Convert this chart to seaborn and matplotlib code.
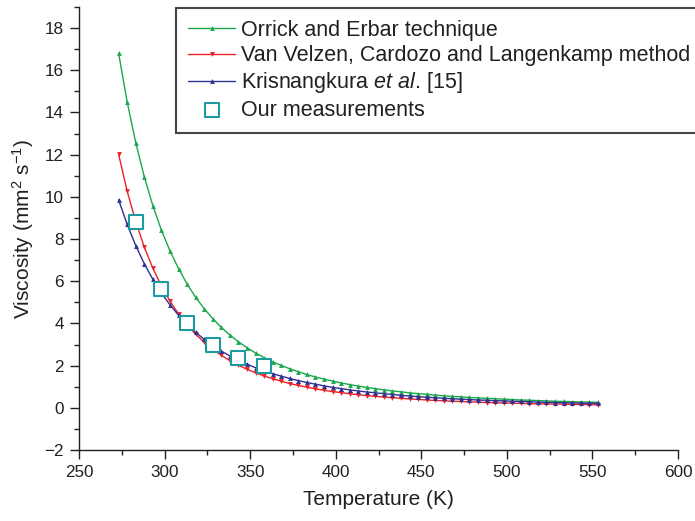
import numpy as np
import pandas as pd
import matplotlib
matplotlib.use("Agg")
import matplotlib.pyplot as plt
from matplotlib.ticker import MultipleLocator
import seaborn as sns

# temperatures (K) of the calculated points, 5 K apart
temp = [273.15, 278.15, 283.15, 288.15, 293.15, 298.15, 303.15, 308.15, 313.15, 318.15,
        323.15, 328.15, 333.15, 338.15, 343.15, 348.15, 353.15, 358.15, 363.15, 368.15,
        373.15, 378.15, 383.15, 388.15, 393.15, 398.15, 403.15, 408.15, 413.15, 418.15,
        423.15, 428.15, 433.15, 438.15, 443.15, 448.15, 453.15, 458.15, 463.15, 468.15,
        473.15, 478.15, 483.15, 488.15, 493.15, 498.15, 503.15, 508.15, 513.15, 518.15,
        523.15, 528.15, 533.15, 538.15, 543.15, 548.15, 553.15]

orrick = [16.81, 14.50, 12.57, 10.95, 9.58, 8.42, 7.44, 6.60, 5.87, 5.24,
          4.70, 4.23, 3.81, 3.45, 3.13, 2.85, 2.60, 2.38, 2.18, 2.01,
          1.85, 1.71, 1.58, 1.46, 1.36, 1.27, 1.18, 1.10, 1.03, 0.97,
          0.91, 0.85, 0.80, 0.76, 0.71, 0.67, 0.64, 0.60, 0.57, 0.54,
          0.52, 0.49, 0.47, 0.45, 0.43, 0.41, 0.39, 0.37, 0.36, 0.34,
          0.33, 0.31, 0.30, 0.29, 0.28, 0.27, 0.26]

van_velzen = [12.02, 10.27, 8.83, 7.62, 6.62, 5.77, 5.06, 4.45, 3.93, 3.49,
              3.11, 2.78, 2.49, 2.24, 2.02, 1.83, 1.66, 1.51, 1.38, 1.26,
              1.15, 1.06, 0.98, 0.90, 0.83, 0.77, 0.72, 0.67, 0.62, 0.58,
              0.54, 0.51, 0.48, 0.45, 0.42, 0.40, 0.37, 0.35, 0.33, 0.31,
              0.30, 0.28, 0.27, 0.25, 0.24, 0.23, 0.22, 0.21, 0.20, 0.19,
              0.18, 0.18, 0.17, 0.16, 0.16, 0.15, 0.14]

krisnangkura = [9.86, 8.69, 7.69, 6.83, 6.09, 5.44, 4.88, 4.39, 3.96, 3.58,
                3.25, 2.95, 2.69, 2.46, 2.25, 2.07, 1.90, 1.75, 1.62, 1.50,
                1.39, 1.29, 1.20, 1.12, 1.04, 0.97, 0.91, 0.85, 0.80, 0.75,
                0.71, 0.67, 0.63, 0.59, 0.56, 0.53, 0.50, 0.48, 0.45, 0.43,
                0.41, 0.39, 0.37, 0.36, 0.34, 0.33, 0.31, 0.30, 0.29, 0.27,
                0.26, 0.25, 0.24, 0.23, 0.22, 0.22, 0.21]

meas_temp = [283.15, 298.15, 313.15, 328.15, 343.15, 358.15]
meas_visc = [8.80, 5.61, 4.04, 3.00, 2.36, 1.96]

labels = ["Orrick and Erbar technique",
          "Van Velzen, Cardozo and Langenkamp method",
          r"Krisnangkura $\it{et\ al}$. [15]",
          "Our measurements"]

sns.set_style("ticks")
plt.rcParams["font.family"] = ["Liberation Sans", "DejaVu Sans"]
plt.rcParams["mathtext.fontset"] = "custom"
plt.rcParams["mathtext.rm"] = "Liberation Sans"
plt.rcParams["mathtext.it"] = "Liberation Sans:italic"

fig = plt.figure(figsize=(6.95, 5.21), dpi=100)
ax = fig.add_axes([79 / 695, 1 - 450 / 521, (678 - 79) / 695, (450 - 7) / 521])

df = pd.DataFrame({"T": temp, "o": orrick, "v": van_velzen, "k": krisnangkura})
sns.lineplot(data=df, x="T", y="o", ax=ax, color="#1aa84b", lw=1.0, marker="^",
             markersize=3.5, markeredgewidth=0, label=labels[0])
sns.lineplot(data=df, x="T", y="v", ax=ax, color="#ec2227", lw=1.0, marker="v",
             markersize=3.5, markeredgewidth=0, label=labels[1])
sns.lineplot(data=df, x="T", y="k", ax=ax, color="#2e3192", lw=1.0, marker="^",
             markersize=3.5, markeredgewidth=0, label=labels[2])
sns.scatterplot(x=meas_temp, y=meas_visc, ax=ax, marker="s", s=100, facecolor="white",
                edgecolor="#1b9aa0", linewidth=1.5, label=labels[3], zorder=5)

ax.set_xlim(250, 600)
ax.set_ylim(-2, 19)
ax.xaxis.set_major_locator(MultipleLocator(50))
ax.xaxis.set_minor_locator(MultipleLocator(25))
ax.yaxis.set_major_locator(MultipleLocator(2))
ax.yaxis.set_minor_locator(MultipleLocator(1))
ax.tick_params(which="major", length=6.8, width=1, labelsize=12.3, colors="#231f20",
               direction="out", pad=4)
ax.tick_params(which="minor", length=3.4, width=1, color="#231f20", direction="out")
for s in ["top", "right"]:
    ax.spines[s].set_visible(False)
for s in ["left", "bottom"]:
    ax.spines[s].set_color("#231f20")
    ax.spines[s].set_linewidth(1.0)

ax.set_xlabel("Temperature (K)", fontsize=15, color="#231f20", labelpad=7)
ax.set_ylabel(r"Viscosity (mm$^{2}$ s$^{-1}$)", fontsize=15, color="#231f20", labelpad=6)

leg = ax.legend(loc="upper left", bbox_to_anchor=(176 / 695, 1 - 8 / 521),
                bbox_transform=fig.transFigure, fontsize=15.5, frameon=True,
                fancybox=False, framealpha=1, edgecolor="#444444",
                handlelength=2.2, handletextpad=0.28, labelspacing=0.2,
                borderpad=0.55, borderaxespad=0)
leg.get_frame().set_linewidth(1.5)
for t in leg.get_texts():
    t.set_color("#231f20")

fig.savefig("out.png", dpi=100)
